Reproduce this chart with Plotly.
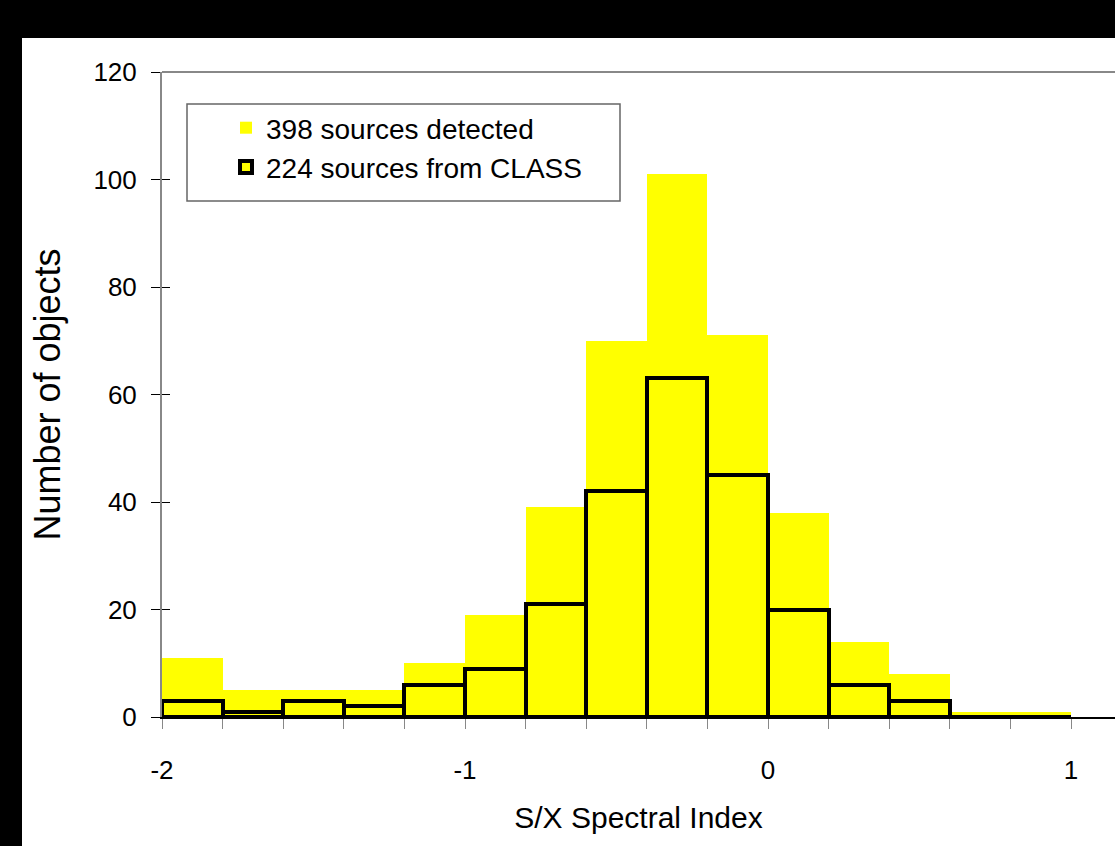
import plotly.graph_objects as go

# Histogram of S/X spectral index, bins of width 0.2 from -2 to 1
bin_left = [-2.0, -1.8, -1.6, -1.4, -1.2, -1.0, -0.8, -0.6, -0.4, -0.2, 0.0, 0.2, 0.4, 0.6, 0.8]
detected_counts = [11, 5, 5, 5, 10, 19, 39, 70, 101, 71, 38, 14, 8, 1, 1]
class_counts = [3, 1, 3, 2, 6, 9, 21, 42, 63, 45, 20, 6, 3, 0, 0]
bin_width = 0.2

x_tick_vals = [round(-2 + 0.2 * i, 1) for i in range(16)]
x_tick_text = ["-2", "", "", "", "", "-1", "", "", "", "", "0", "", "", "", "", "1"]
y_tick_vals = [0, 20, 40, 60, 80, 100, 120]

W, H = 1115, 846
L, R, T, B = 162, 1115, 72, 717


def px_x(px):
    return (px - L) / (R - L)


def px_y(py):
    return (B - py) / (B - T)


centers = [b + bin_width / 2 for b in bin_left]
FONT = "Liberation Sans, Arial, sans-serif"

fig = go.Figure()
fig.add_trace(go.Bar(
    x=centers, y=detected_counts, width=bin_width,
    name="398 sources detected",
    marker=dict(color="#FFFF00", line=dict(width=0)),
))
fig.add_trace(go.Bar(
    x=centers, y=class_counts, width=bin_width,
    name="224 sources from CLASS",
    marker=dict(color="#FFFF00", line=dict(color="black", width=4)),
))
# invisible trace bound to the second y axis so it carries the inner tick marks
fig.add_trace(go.Scatter(x=[-2], y=[0], yaxis="y2", mode="markers",
                         marker=dict(opacity=0), showlegend=False, hoverinfo="skip"))

fig.update_layout(
    width=W, height=H,
    margin=dict(l=L, r=W - R, t=T, b=H - B),
    paper_bgcolor="black",
    plot_bgcolor="white",
    barmode="overlay",
    bargap=0,
    font=dict(family=FONT, color="black", size=26),
    showlegend=True,
    legend=dict(
        x=px_x(226), y=px_y(103), xanchor="left", yanchor="top",
        bgcolor="rgba(0,0,0,0)", borderwidth=0,
        font=dict(size=28, family=FONT),
        traceorder="normal",
    ),
    xaxis=dict(
        range=[-2, -2 + (R - L) / 303.0],
        tickvals=x_tick_vals, ticktext=x_tick_text,
        ticks="outside", ticklen=10, tickcolor="#888888",
        showline=True, linecolor="black", linewidth=2,
        showgrid=False, zeroline=False,
        ticklabelstandoff=19,
        tickfont=dict(size=26),
        title=dict(text="S/X Spectral Index", font=dict(size=30), standoff=23),
    ),
    yaxis=dict(
        range=[0, 120], tickvals=y_tick_vals,
        ticks="outside", ticklen=9, tickcolor="black",
        showline=True, linecolor="#888888", linewidth=2,
        showgrid=False, zeroline=False,
        ticklabelstandoff=9,
        tickfont=dict(size=26),
        title=dict(text="Number of objects", font=dict(size=36), standoff=22),
    ),
    yaxis2=dict(
        range=[0, 120], tickvals=y_tick_vals, overlaying="y", side="left",
        ticks="inside", ticklen=8, tickcolor="black",
        showticklabels=False, showline=False, showgrid=False, zeroline=False,
    ),
    shapes=[
        # white panel behind the chart
        dict(type="rect", xref="paper", yref="paper", layer="below",
             x0=px_x(22), x1=px_x(W + 5), y0=px_y(H + 5), y1=px_y(38),
             fillcolor="white", line=dict(width=0)),
        # top frame line
        dict(type="line", xref="paper", yref="paper",
             x0=0, x1=1, y0=1, y1=1, line=dict(color="#888888", width=2)),
        # legend box
        dict(type="rect", xref="paper", yref="paper",
             x0=px_x(187), x1=px_x(620), y0=px_y(201), y1=px_y(104),
             fillcolor="rgba(0,0,0,0)", line=dict(color="#666666", width=1.5)),
    ],
)

fig.write_html("out.html")
